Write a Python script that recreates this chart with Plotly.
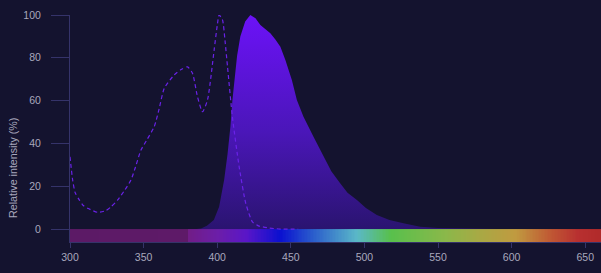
import plotly.graph_objects as go

# Emission spectrum (nm, relative intensity %)
em_wl = [386, 389, 393, 397.7, 401.3, 404.7, 407, 409, 410.3, 412.5, 413.5, 415.7, 419, 422.5,
         426, 429.3, 433, 436.1, 439.5, 442.9, 446.3, 450.7, 454.1, 458.6, 465.4, 472.2, 477.5,
         483.5, 488.5, 494.9, 501, 508.4, 517, 526.5, 537.8, 550, 565, 590, 620, 661]
em_val = [0, 0.3, 1.5, 4.2, 10.4, 22.9, 35, 48, 60, 74, 81, 90, 97, 100,
          98.5, 95.3, 93.4, 91.5, 88.5, 85.2, 79, 69.6, 60.3, 52.5, 43.1, 33.8, 27,
          21.4, 17, 13.6, 9.8, 6.6, 4.2, 2.7, 1.1, 0.5, 0.2, 0, 0, 0]

# Excitation spectrum (dashed)
ex_wl = [300, 301.8, 303.5, 306.3, 309, 312, 318.8, 324.4, 328, 332.4, 337, 341.4, 344.5,
         348.2, 352.5, 357.2, 360.5, 364, 370.8, 375.5, 379.8, 383.2, 386.6, 390, 393.4,
         397.9, 400, 401.3, 403.6, 405.3, 407, 410.3, 414.9, 419.4, 423.9, 428, 434.1, 443, 455]
ex_val = [33.8, 22.9, 17, 13.6, 11, 9.7, 7.8, 8.6, 10.5, 13.6, 18, 22.9, 29,
          36.9, 42, 47.8, 56, 65.7, 72, 74.5, 75.8, 72.8, 61.8, 54.8, 60.3,
          83.6, 95, 100, 97.7, 88, 75.8, 52.5, 29.1, 12, 3.4, 1.5, 0.6, 0, 0]

# Visible spectrum bar colour stops (nm, colour)
spec_nm = [300, 379.9, 380, 400, 420, 443, 465, 495, 518, 555, 580, 603, 626, 645, 661]
spec_col = ["#5c1a66", "#5e1a68", "#711d86", "#6c1ea8", "#5a16c8", "#0a10d0", "#2a5ccc",
            "#5ab8c8", "#58c04c", "#8ab84a", "#aaa844", "#c09a40", "#c05a34", "#b83030",
            "#b02a2a"]

x_ticks = [300, 350, 400, 450, 500, 550, 600, 650]
y_ticks = [0, 20, 40, 60, 80, 100]
y_title = "Relative intensity (%)"

X_MIN, X_MAX = 300, 660.7
Y_MIN, Y_MAX = -6.05, 100
BAR_TOP = 0

bg = "#14132f"
axis_col = "#35336a"
text_col = "#a9a8bd"

lo, hi = spec_nm[0], spec_nm[-1]
colorscale = [[(n - lo) / (hi - lo), c] for n, c in zip(spec_nm, spec_col)]

bar_edges = list(range(300, 662))
bar_z = [[e + 0.5 for e in bar_edges[:-1]]]

fig = go.Figure()

fig.add_trace(go.Heatmap(
    x=bar_edges, y=[Y_MIN, BAR_TOP], z=bar_z,
    colorscale=colorscale, zmin=lo, zmax=hi, showscale=False,
    hoverinfo="skip",
))

fig.add_trace(go.Scatter(
    x=em_wl, y=em_val, mode="lines", line=dict(width=0, color="#6a12f5"),
    fill="tozeroy",
    fillgradient=dict(type="vertical",
                      colorscale=[[0, "#2a1470"], [0.45, "#4a16b8"], [1, "#6c12f8"]]),
    hoverinfo="skip",
))

fig.add_trace(go.Scatter(
    x=ex_wl, y=ex_val, mode="lines",
    line=dict(color="#6a22e8", width=1.2, dash="4px,3px", shape="spline", smoothing=0.6),
    hoverinfo="skip",
))

fig.update_layout(
    width=601, height=273,
    margin=dict(l=70, r=0, t=15, b=31),
    paper_bgcolor=bg, plot_bgcolor=bg,
    showlegend=False,
    font=dict(family="Liberation Sans, Arial, sans-serif", size=10.5, color=text_col),
    xaxis=dict(range=[X_MIN, X_MAX], tickvals=x_ticks, showgrid=False, zeroline=False,
               showline=True, linecolor=axis_col, linewidth=1,
               ticks="outside", ticklen=5, tickcolor=axis_col, tickwidth=1,
               tickfont=dict(size=10.5, color=text_col)),
    yaxis=dict(range=[Y_MIN, Y_MAX], tickvals=y_ticks, showgrid=False, zeroline=False,
               showline=True, linecolor=axis_col, linewidth=1,
               ticks="outside", ticklen=18, tickcolor=axis_col, tickwidth=1,
               ticklabelstandoff=8,
               tickfont=dict(size=10.5, color=text_col)),
    annotations=[dict(text=y_title, textangle=-90, xref="paper", yref="paper",
                      x=-0.1073, y=0.326, xanchor="center", yanchor="middle",
                      showarrow=False, font=dict(size=10.7, color=text_col))],
)

fig.write_html("out.html")
